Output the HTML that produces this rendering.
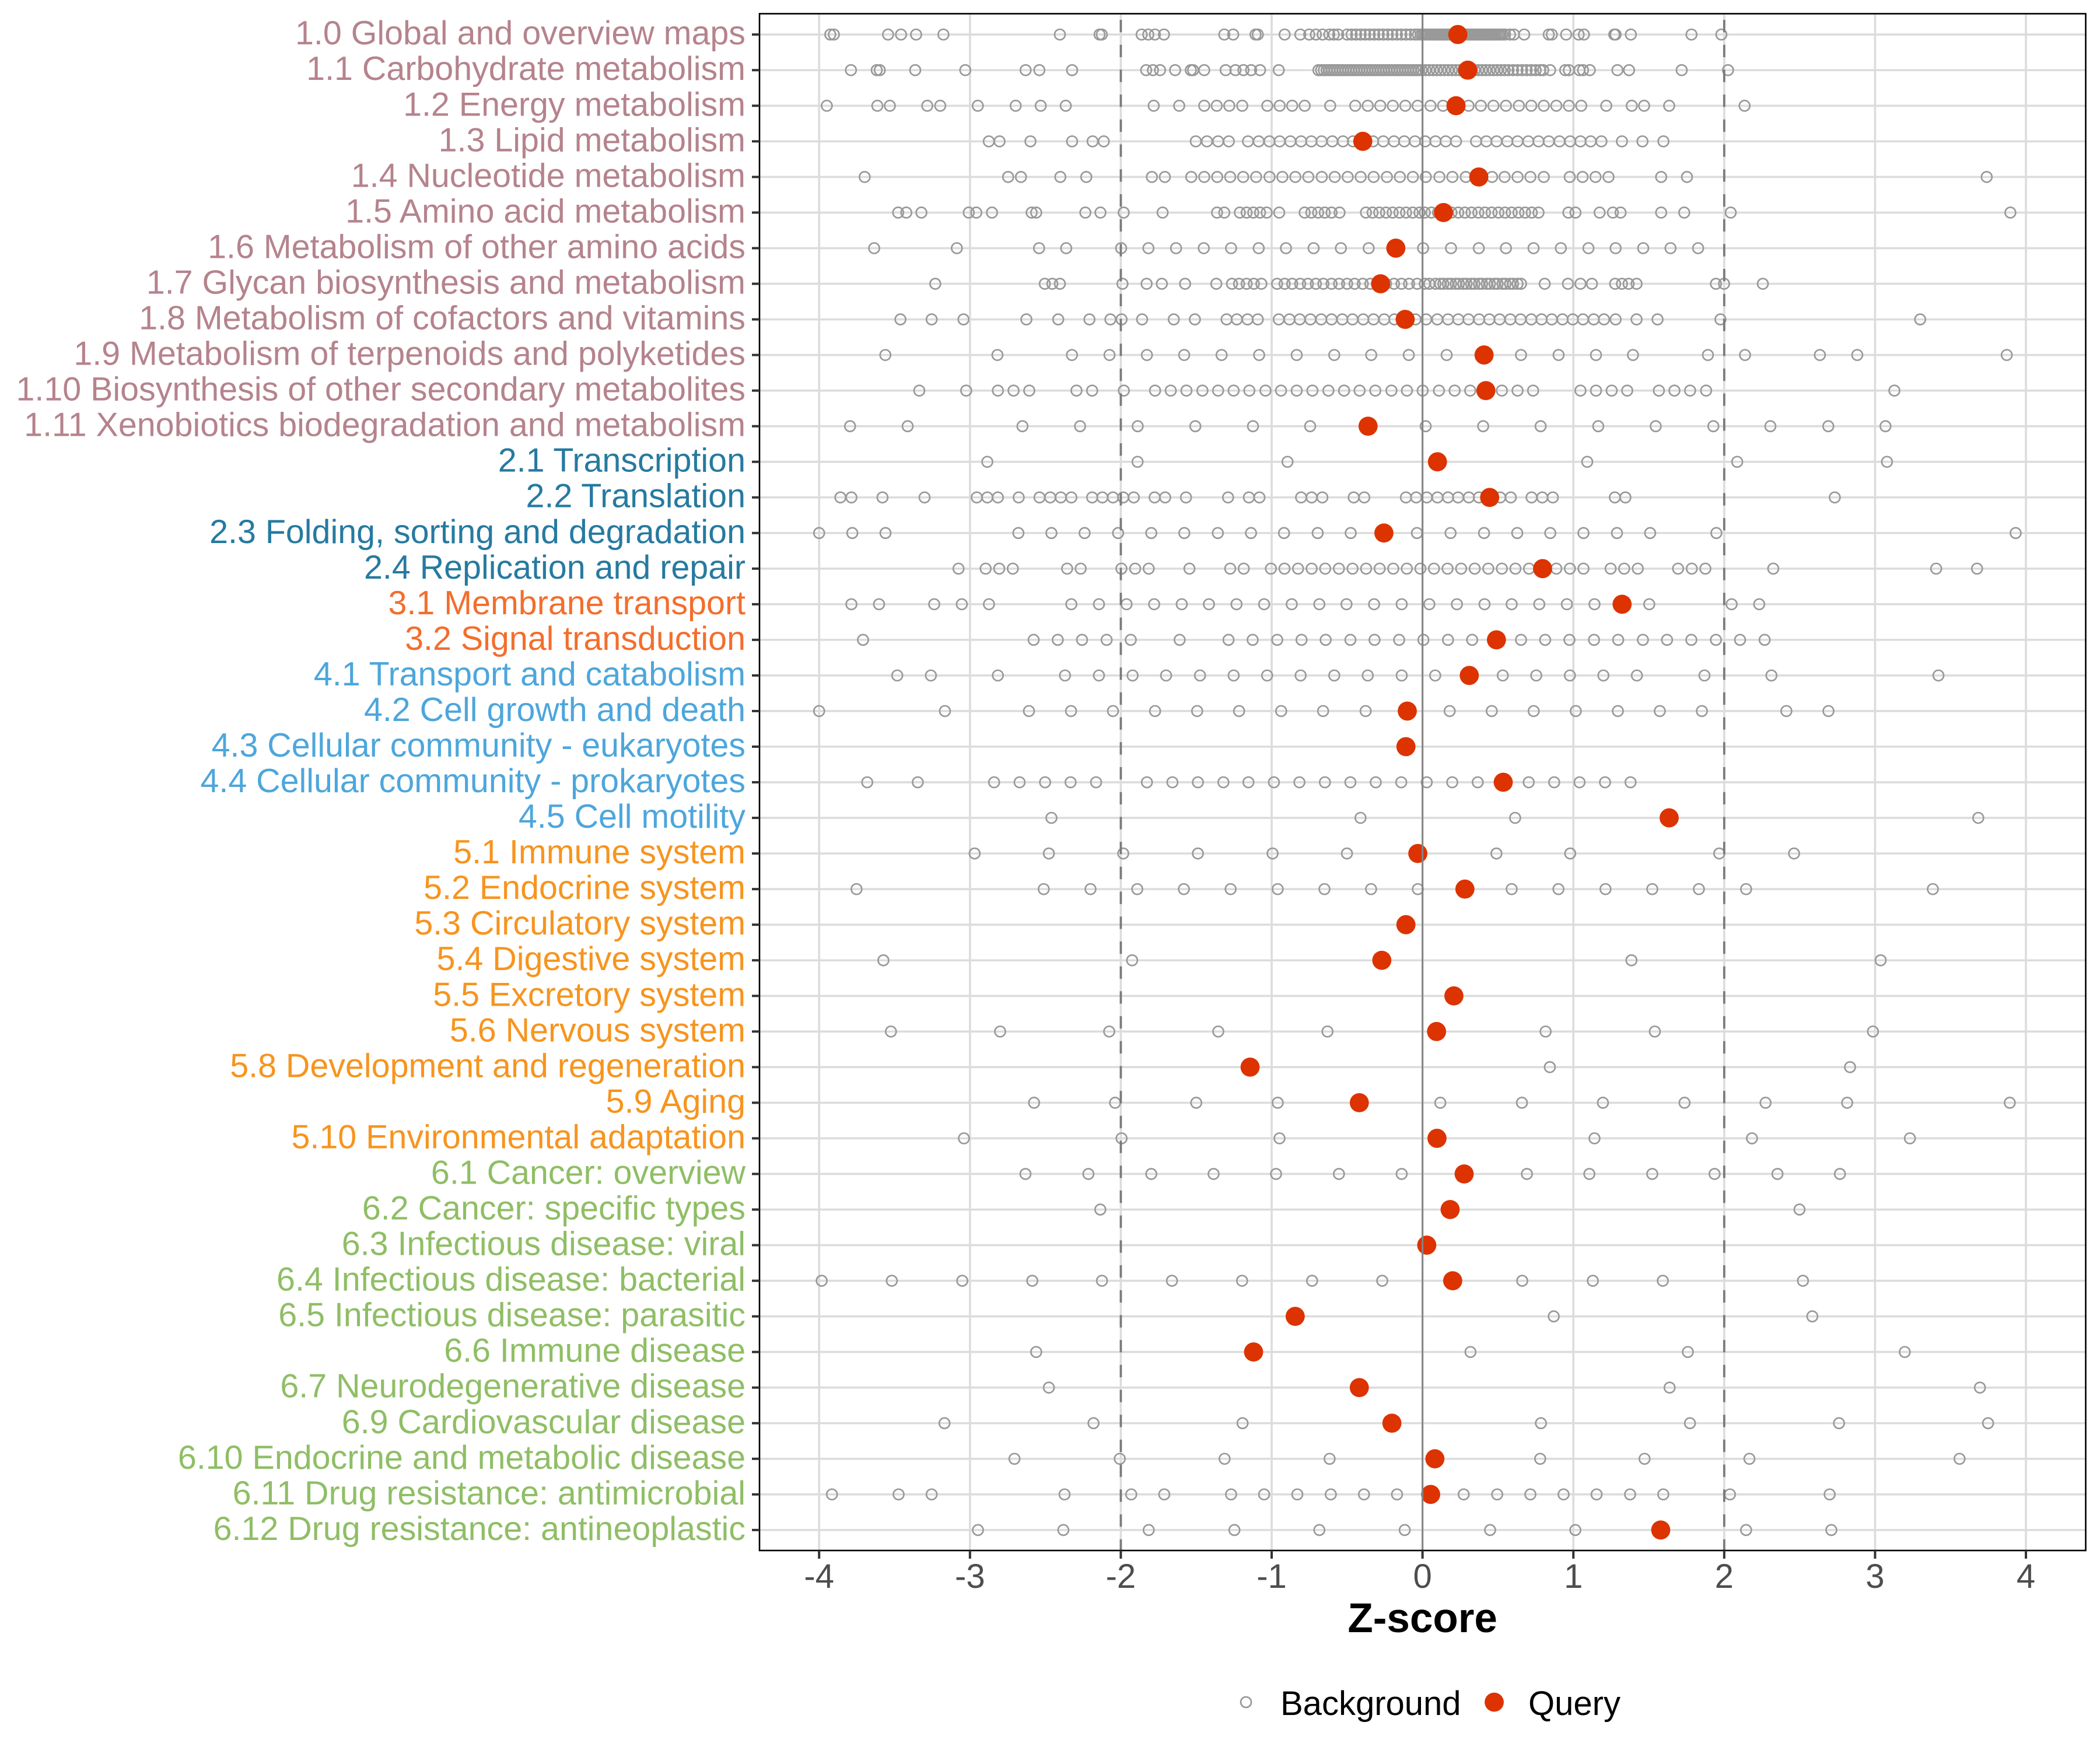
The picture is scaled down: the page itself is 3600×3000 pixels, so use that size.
<!DOCTYPE html>
<html><head><meta charset="utf-8"><style>
html,body{margin:0;padding:0;background:#fff;}
svg{display:block;}
text{font-family:"Liberation Sans",Arial,sans-serif;}
.b circle{fill:none;stroke:#999;stroke-width:.0104;}
.q{fill:#dc3300;}
.yl text{font-size:57.4px;text-anchor:end;}
.c1{fill:#b5838d}.c2{fill:#267aa0}.c3{fill:#f36e2d}.c4{fill:#4da6dc}.c5{fill:#f7941e}.c6{fill:#8fbe65}
</style></head><body>
<svg width="3600" height="3000" viewBox="0 0 3600 3000" xmlns="http://www.w3.org/2000/svg">
<rect x="0" y="0" width="3600" height="3000" fill="#fff"/>
<g stroke="#dcdcdc" stroke-width="3.6">
<line x1="1302" x2="3575" y1="59.2" y2="59.2"/><line x1="1302" x2="3575" y1="120.24" y2="120.24"/><line x1="1302" x2="3575" y1="181.28" y2="181.28"/><line x1="1302" x2="3575" y1="242.32" y2="242.32"/><line x1="1302" x2="3575" y1="303.36" y2="303.36"/><line x1="1302" x2="3575" y1="364.4" y2="364.4"/><line x1="1302" x2="3575" y1="425.44" y2="425.44"/><line x1="1302" x2="3575" y1="486.48" y2="486.48"/><line x1="1302" x2="3575" y1="547.52" y2="547.52"/><line x1="1302" x2="3575" y1="608.56" y2="608.56"/><line x1="1302" x2="3575" y1="669.6" y2="669.6"/><line x1="1302" x2="3575" y1="730.64" y2="730.64"/><line x1="1302" x2="3575" y1="791.68" y2="791.68"/><line x1="1302" x2="3575" y1="852.72" y2="852.72"/><line x1="1302" x2="3575" y1="913.76" y2="913.76"/><line x1="1302" x2="3575" y1="974.8" y2="974.8"/><line x1="1302" x2="3575" y1="1035.84" y2="1035.84"/><line x1="1302" x2="3575" y1="1096.88" y2="1096.88"/><line x1="1302" x2="3575" y1="1157.92" y2="1157.92"/><line x1="1302" x2="3575" y1="1218.96" y2="1218.96"/><line x1="1302" x2="3575" y1="1280" y2="1280"/><line x1="1302" x2="3575" y1="1341.04" y2="1341.04"/><line x1="1302" x2="3575" y1="1402.08" y2="1402.08"/><line x1="1302" x2="3575" y1="1463.12" y2="1463.12"/><line x1="1302" x2="3575" y1="1524.16" y2="1524.16"/><line x1="1302" x2="3575" y1="1585.2" y2="1585.2"/><line x1="1302" x2="3575" y1="1646.24" y2="1646.24"/><line x1="1302" x2="3575" y1="1707.28" y2="1707.28"/><line x1="1302" x2="3575" y1="1768.32" y2="1768.32"/><line x1="1302" x2="3575" y1="1829.36" y2="1829.36"/><line x1="1302" x2="3575" y1="1890.4" y2="1890.4"/><line x1="1302" x2="3575" y1="1951.44" y2="1951.44"/><line x1="1302" x2="3575" y1="2012.48" y2="2012.48"/><line x1="1302" x2="3575" y1="2073.52" y2="2073.52"/><line x1="1302" x2="3575" y1="2134.56" y2="2134.56"/><line x1="1302" x2="3575" y1="2195.6" y2="2195.6"/><line x1="1302" x2="3575" y1="2256.64" y2="2256.64"/><line x1="1302" x2="3575" y1="2317.68" y2="2317.68"/><line x1="1302" x2="3575" y1="2378.72" y2="2378.72"/><line x1="1302" x2="3575" y1="2439.76" y2="2439.76"/><line x1="1302" x2="3575" y1="2500.8" y2="2500.8"/><line x1="1302" x2="3575" y1="2561.84" y2="2561.84"/><line x1="1302" x2="3575" y1="2622.88" y2="2622.88"/>
</g>
<g stroke="#dcdcdc" stroke-width="3.6">
<line x1="1404.2" x2="1404.2" y1="23.5" y2="2658"/><line x1="1662.8" x2="1662.8" y1="23.5" y2="2658"/><line x1="1921.4" x2="1921.4" y1="23.5" y2="2658"/><line x1="2180" x2="2180" y1="23.5" y2="2658"/><line x1="2438.6" x2="2438.6" y1="23.5" y2="2658"/><line x1="2697.2" x2="2697.2" y1="23.5" y2="2658"/><line x1="2955.8" x2="2955.8" y1="23.5" y2="2658"/><line x1="3214.4" x2="3214.4" y1="23.5" y2="2658"/><line x1="3473" x2="3473" y1="23.5" y2="2658"/>
</g>

<g transform="translate(2438.6 59.2) scale(258.6)"><g class="b">
<circle cx="-3.926" r=".0348"/><circle cx="-3.902" r=".0348"/><circle cx="-3.543" r=".0348"/><circle cx="-3.457" r=".0348"/><circle cx="-3.357" r=".0348"/><circle cx="-3.176" r=".0348"/><circle cx="-2.404" r=".0348"/><circle cx="-2.141" r=".0348"/><circle cx="-2.126" r=".0348"/><circle cx="-1.862" r=".0348"/><circle cx="-1.818" r=".0348"/><circle cx="-1.774" r=".0348"/><circle cx="-1.714" r=".0348"/><circle cx="-1.314" r=".0348"/><circle cx="-1.255" r=".0348"/><circle cx="-1.107" r=".0348"/><circle cx="-1.092" r=".0348"/><circle cx="-0.914" r=".0348"/><circle cx="-0.81" r=".0348"/><circle cx="-0.751" r=".0348"/><circle cx="-0.707" r=".0348"/><circle cx="-0.662" r=".0348"/><circle cx="-0.618" r=".0348"/><circle cx="-0.588" r=".0348"/><circle cx="-0.559" r=".0348"/><circle cx="-0.5" r=".0348"/><circle cx="-0.47" r=".0348"/><circle cx="-0.44" r=".0348"/><circle cx="-0.41" r=".0348"/><circle cx="-0.38" r=".0348"/><circle cx="-0.35" r=".0348"/><circle cx="-0.32" r=".0348"/><circle cx="-0.29" r=".0348"/><circle cx="-0.26" r=".0348"/><circle cx="-0.23" r=".0348"/><circle cx="-0.2" r=".0348"/><circle cx="-0.17" r=".0348"/><circle cx="-0.14" r=".0348"/><circle cx="-0.11" r=".0348"/><circle cx="-0.08" r=".0348"/><circle cx="-0.05" r=".0348"/><circle cx="-0.03" r=".0348"/><circle cx="-0.01" r=".0348"/><circle cx="0.002" r=".0348"/><circle cx="0.014" r=".0348"/><circle cx="0.026" r=".0348"/><circle cx="0.038" r=".0348"/><circle cx="0.05" r=".0348"/><circle cx="0.062" r=".0348"/><circle cx="0.074" r=".0348"/><circle cx="0.086" r=".0348"/><circle cx="0.098" r=".0348"/><circle cx="0.11" r=".0348"/><circle cx="0.122" r=".0348"/><circle cx="0.134" r=".0348"/><circle cx="0.146" r=".0348"/><circle cx="0.158" r=".0348"/><circle cx="0.17" r=".0348"/><circle cx="0.182" r=".0348"/><circle cx="0.194" r=".0348"/><circle cx="0.206" r=".0348"/><circle cx="0.218" r=".0348"/><circle cx="0.23" r=".0348"/><circle cx="0.242" r=".0348"/><circle cx="0.254" r=".0348"/><circle cx="0.266" r=".0348"/><circle cx="0.278" r=".0348"/><circle cx="0.29" r=".0348"/><circle cx="0.302" r=".0348"/><circle cx="0.314" r=".0348"/><circle cx="0.326" r=".0348"/><circle cx="0.338" r=".0348"/><circle cx="0.35" r=".0348"/><circle cx="0.362" r=".0348"/><circle cx="0.374" r=".0348"/><circle cx="0.386" r=".0348"/><circle cx="0.398" r=".0348"/><circle cx="0.41" r=".0348"/><circle cx="0.422" r=".0348"/><circle cx="0.434" r=".0348"/><circle cx="0.446" r=".0348"/><circle cx="0.458" r=".0348"/><circle cx="0.47" r=".0348"/><circle cx="0.482" r=".0348"/><circle cx="0.494" r=".0348"/><circle cx="0.506" r=".0348"/><circle cx="0.518" r=".0348"/><circle cx="0.53" r=".0348"/><circle cx="0.547" r=".0348"/><circle cx="0.58" r=".0348"/><circle cx="0.606" r=".0348"/><circle cx="0.674" r=".0348"/><circle cx="0.837" r=".0348"/><circle cx="0.857" r=".0348"/><circle cx="0.952" r=".0348"/><circle cx="1.035" r=".0348"/><circle cx="1.07" r=".0348"/><circle cx="1.271" r=".0348"/><circle cx="1.28" r=".0348"/><circle cx="1.381" r=".0348"/><circle cx="1.783" r=".0348"/><circle cx="1.981" r=".0348"/>
</g><circle class="q" cx="0.234" r=".0634"/></g>

<g transform="translate(2438.6 120.24) scale(258.6)"><g class="b">
<circle cx="-3.789" r=".0348"/><circle cx="-3.618" r=".0348"/><circle cx="-3.598" r=".0348"/><circle cx="-3.363" r=".0348"/><circle cx="-3.031" r=".0348"/><circle cx="-2.631" r=".0348"/><circle cx="-2.54" r=".0348"/><circle cx="-2.323" r=".0348"/><circle cx="-1.832" r=".0348"/><circle cx="-1.787" r=".0348"/><circle cx="-1.74" r=".0348"/><circle cx="-1.64" r=".0348"/><circle cx="-1.536" r=".0348"/><circle cx="-1.521" r=".0348"/><circle cx="-1.447" r=".0348"/><circle cx="-1.305" r=".0348"/><circle cx="-1.24" r=".0348"/><circle cx="-1.187" r=".0348"/><circle cx="-1.136" r=".0348"/><circle cx="-1.077" r=".0348"/><circle cx="-0.953" r=".0348"/><circle cx="-0.69" r=".0348"/><circle cx="-0.672" r=".0348"/><circle cx="-0.654" r=".0348"/><circle cx="-0.636" r=".0348"/><circle cx="-0.618" r=".0348"/><circle cx="-0.6" r=".0348"/><circle cx="-0.582" r=".0348"/><circle cx="-0.564" r=".0348"/><circle cx="-0.546" r=".0348"/><circle cx="-0.528" r=".0348"/><circle cx="-0.51" r=".0348"/><circle cx="-0.492" r=".0348"/><circle cx="-0.474" r=".0348"/><circle cx="-0.456" r=".0348"/><circle cx="-0.438" r=".0348"/><circle cx="-0.42" r=".0348"/><circle cx="-0.402" r=".0348"/><circle cx="-0.384" r=".0348"/><circle cx="-0.366" r=".0348"/><circle cx="-0.348" r=".0348"/><circle cx="-0.33" r=".0348"/><circle cx="-0.312" r=".0348"/><circle cx="-0.294" r=".0348"/><circle cx="-0.276" r=".0348"/><circle cx="-0.258" r=".0348"/><circle cx="-0.24" r=".0348"/><circle cx="-0.222" r=".0348"/><circle cx="-0.204" r=".0348"/><circle cx="-0.186" r=".0348"/><circle cx="-0.168" r=".0348"/><circle cx="-0.15" r=".0348"/><circle cx="-0.132" r=".0348"/><circle cx="-0.114" r=".0348"/><circle cx="-0.096" r=".0348"/><circle cx="-0.078" r=".0348"/><circle cx="-0.06" r=".0348"/><circle cx="-0.042" r=".0348"/><circle cx="-0.024" r=".0348"/><circle cx="-0.006" r=".0348"/><circle cx="0.02" r=".0348"/><circle cx="0.045" r=".0348"/><circle cx="0.07" r=".0348"/><circle cx="0.095" r=".0348"/><circle cx="0.12" r=".0348"/><circle cx="0.145" r=".0348"/><circle cx="0.17" r=".0348"/><circle cx="0.195" r=".0348"/><circle cx="0.22" r=".0348"/><circle cx="0.245" r=".0348"/><circle cx="0.27" r=".0348"/><circle cx="0.295" r=".0348"/><circle cx="0.32" r=".0348"/><circle cx="0.345" r=".0348"/><circle cx="0.37" r=".0348"/><circle cx="0.395" r=".0348"/><circle cx="0.42" r=".0348"/><circle cx="0.445" r=".0348"/><circle cx="0.47" r=".0348"/><circle cx="0.495" r=".0348"/><circle cx="0.52" r=".0348"/><circle cx="0.545" r=".0348"/><circle cx="0.57" r=".0348"/><circle cx="0.6" r=".0348"/><circle cx="0.63" r=".0348"/><circle cx="0.66" r=".0348"/><circle cx="0.69" r=".0348"/><circle cx="0.72" r=".0348"/><circle cx="0.75" r=".0348"/><circle cx="0.78" r=".0348"/><circle cx="0.8" r=".0348"/><circle cx="0.846" r=".0348"/><circle cx="0.946" r=".0348"/><circle cx="0.97" r=".0348"/><circle cx="1.04" r=".0348"/><circle cx="1.064" r=".0348"/><circle cx="1.109" r=".0348"/><circle cx="1.292" r=".0348"/><circle cx="1.369" r=".0348"/><circle cx="1.718" r=".0348"/><circle cx="2.025" r=".0348"/>
</g><circle class="q" cx="0.3" r=".0634"/></g>

<g transform="translate(2438.6 181.28) scale(258.6)"><g class="b">
<circle cx="-3.949" r=".0348"/><circle cx="-3.614" r=".0348"/><circle cx="-3.531" r=".0348"/><circle cx="-3.283" r=".0348"/><circle cx="-3.197" r=".0348"/><circle cx="-2.948" r=".0348"/><circle cx="-2.697" r=".0348"/><circle cx="-2.531" r=".0348"/><circle cx="-2.365" r=".0348"/><circle cx="-1.782" r=".0348"/><circle cx="-1.613" r=".0348"/><circle cx="-1.447" r=".0348"/><circle cx="-1.364" r=".0348"/><circle cx="-1.281" r=".0348"/><circle cx="-1.195" r=".0348"/><circle cx="-1.029" r=".0348"/><circle cx="-0.947" r=".0348"/><circle cx="-0.864" r=".0348"/><circle cx="-0.781" r=".0348"/><circle cx="-0.612" r=".0348"/><circle cx="-0.446" r=".0348"/><circle cx="-0.363" r=".0348"/><circle cx="-0.28" r=".0348"/><circle cx="-0.197" r=".0348"/><circle cx="-0.114" r=".0348"/><circle cx="-0.032" r=".0348"/><circle cx="0.053" r=".0348"/><circle cx="0.136" r=".0348"/><circle cx="0.222" r=".0348"/><circle cx="0.305" r=".0348"/><circle cx="0.387" r=".0348"/><circle cx="0.47" r=".0348"/><circle cx="0.553" r=".0348"/><circle cx="0.639" r=".0348"/><circle cx="0.721" r=".0348"/><circle cx="0.804" r=".0348"/><circle cx="0.887" r=".0348"/><circle cx="0.97" r=".0348"/><circle cx="1.052" r=".0348"/><circle cx="1.218" r=".0348"/><circle cx="1.387" r=".0348"/><circle cx="1.469" r=".0348"/><circle cx="1.635" r=".0348"/><circle cx="2.135" r=".0348"/>
</g><circle class="q" cx="0.222" r=".0634"/></g>

<g transform="translate(2438.6 242.32) scale(258.6)"><g class="b">
<circle cx="-2.875" r=".0348"/><circle cx="-2.804" r=".0348"/><circle cx="-2.599" r=".0348"/><circle cx="-2.323" r=".0348"/><circle cx="-2.187" r=".0348"/><circle cx="-2.113" r=".0348"/><circle cx="-1.503" r=".0348"/><circle cx="-1.429" r=".0348"/><circle cx="-1.355" r=".0348"/><circle cx="-1.284" r=".0348"/><circle cx="-1.157" r=".0348"/><circle cx="-1.086" r=".0348"/><circle cx="-1.015" r=".0348"/><circle cx="-0.947" r=".0348"/><circle cx="-0.876" r=".0348"/><circle cx="-0.805" r=".0348"/><circle cx="-0.737" r=".0348"/><circle cx="-0.669" r=".0348"/><circle cx="-0.598" r=".0348"/><circle cx="-0.527" r=".0348"/><circle cx="-0.461" r=".0348"/><circle cx="-0.328" r=".0348"/><circle cx="-0.26" r=".0348"/><circle cx="-0.189" r=".0348"/><circle cx="-0.121" r=".0348"/><circle cx="-0.05" r=".0348"/><circle cx="0.018" r=".0348"/><circle cx="0.086" r=".0348"/><circle cx="0.154" r=".0348"/><circle cx="0.222" r=".0348"/><circle cx="0.355" r=".0348"/><circle cx="0.423" r=".0348"/><circle cx="0.491" r=".0348"/><circle cx="0.562" r=".0348"/><circle cx="0.63" r=".0348"/><circle cx="0.701" r=".0348"/><circle cx="0.769" r=".0348"/><circle cx="0.837" r=".0348"/><circle cx="0.908" r=".0348"/><circle cx="0.979" r=".0348"/><circle cx="1.047" r=".0348"/><circle cx="1.115" r=".0348"/><circle cx="1.186" r=".0348"/><circle cx="1.322" r=".0348"/><circle cx="1.458" r=".0348"/><circle cx="1.597" r=".0348"/>
</g><circle class="q" cx="-0.396" r=".0634"/></g>

<g transform="translate(2438.6 303.36) scale(258.6)"><g class="b">
<circle cx="-3.698" r=".0348"/><circle cx="-2.747" r=".0348"/><circle cx="-2.662" r=".0348"/><circle cx="-2.401" r=".0348"/><circle cx="-2.229" r=".0348"/><circle cx="-1.794" r=".0348"/><circle cx="-1.708" r=".0348"/><circle cx="-1.533" r=".0348"/><circle cx="-1.447" r=".0348"/><circle cx="-1.361" r=".0348"/><circle cx="-1.275" r=".0348"/><circle cx="-1.189" r=".0348"/><circle cx="-1.103" r=".0348"/><circle cx="-1.014" r=".0348"/><circle cx="-0.929" r=".0348"/><circle cx="-0.843" r=".0348"/><circle cx="-0.757" r=".0348"/><circle cx="-0.668" r=".0348"/><circle cx="-0.582" r=".0348"/><circle cx="-0.496" r=".0348"/><circle cx="-0.41" r=".0348"/><circle cx="-0.324" r=".0348"/><circle cx="-0.236" r=".0348"/><circle cx="-0.15" r=".0348"/><circle cx="-0.064" r=".0348"/><circle cx="0.022" r=".0348"/><circle cx="0.112" r=".0348"/><circle cx="0.198" r=".0348"/><circle cx="0.287" r=".0348"/><circle cx="0.461" r=".0348"/><circle cx="0.544" r=".0348"/><circle cx="0.63" r=".0348"/><circle cx="0.715" r=".0348"/><circle cx="0.804" r=".0348"/><circle cx="0.976" r=".0348"/><circle cx="1.061" r=".0348"/><circle cx="1.147" r=".0348"/><circle cx="1.233" r=".0348"/><circle cx="1.582" r=".0348"/><circle cx="1.753" r=".0348"/><circle cx="3.74" r=".0348"/>
</g><circle class="q" cx="0.373" r=".0634"/></g>

<g transform="translate(2438.6 364.4) scale(258.6)"><g class="b">
<circle cx="-3.476" r=".0348"/><circle cx="-3.422" r=".0348"/><circle cx="-3.322" r=".0348"/><circle cx="-3.008" r=".0348"/><circle cx="-2.958" r=".0348"/><circle cx="-2.854" r=".0348"/><circle cx="-2.591" r=".0348"/><circle cx="-2.561" r=".0348"/><circle cx="-2.235" r=".0348"/><circle cx="-2.135" r=".0348"/><circle cx="-1.981" r=".0348"/><circle cx="-1.723" r=".0348"/><circle cx="-1.362" r=".0348"/><circle cx="-1.314" r=".0348"/><circle cx="-1.211" r=".0348"/><circle cx="-1.166" r=".0348"/><circle cx="-1.122" r=".0348"/><circle cx="-1.077" r=".0348"/><circle cx="-1.033" r=".0348"/><circle cx="-0.95" r=".0348"/><circle cx="-0.781" r=".0348"/><circle cx="-0.737" r=".0348"/><circle cx="-0.692" r=".0348"/><circle cx="-0.648" r=".0348"/><circle cx="-0.603" r=".0348"/><circle cx="-0.55" r=".0348"/><circle cx="-0.375" r=".0348"/><circle cx="-0.331" r=".0348"/><circle cx="-0.287" r=".0348"/><circle cx="-0.242" r=".0348"/><circle cx="-0.198" r=".0348"/><circle cx="-0.153" r=".0348"/><circle cx="-0.109" r=".0348"/><circle cx="-0.065" r=".0348"/><circle cx="-0.02" r=".0348"/><circle cx="0.015" r=".0348"/><circle cx="0.059" r=".0348"/><circle cx="0.103" r=".0348"/><circle cx="0.192" r=".0348"/><circle cx="0.237" r=".0348"/><circle cx="0.281" r=".0348"/><circle cx="0.325" r=".0348"/><circle cx="0.37" r=".0348"/><circle cx="0.414" r=".0348"/><circle cx="0.458" r=".0348"/><circle cx="0.503" r=".0348"/><circle cx="0.547" r=".0348"/><circle cx="0.591" r=".0348"/><circle cx="0.636" r=".0348"/><circle cx="0.68" r=".0348"/><circle cx="0.724" r=".0348"/><circle cx="0.769" r=".0348"/><circle cx="0.967" r=".0348"/><circle cx="1.014" r=".0348"/><circle cx="1.174" r=".0348"/><circle cx="1.262" r=".0348"/><circle cx="1.313" r=".0348"/><circle cx="1.582" r=".0348"/><circle cx="1.735" r=".0348"/><circle cx="2.043" r=".0348"/><circle cx="3.897" r=".0348"/>
</g><circle class="q" cx="0.139" r=".0634"/></g>

<g transform="translate(2438.6 425.44) scale(258.6)"><g class="b">
<circle cx="-3.635" r=".0348"/><circle cx="-3.087" r=".0348"/><circle cx="-2.542" r=".0348"/><circle cx="-2.362" r=".0348"/><circle cx="-1.998" r=".0348"/><circle cx="-1.817" r=".0348"/><circle cx="-1.634" r=".0348"/><circle cx="-1.45" r=".0348"/><circle cx="-1.269" r=".0348"/><circle cx="-1.086" r=".0348"/><circle cx="-0.905" r=".0348"/><circle cx="-0.722" r=".0348"/><circle cx="-0.541" r=".0348"/><circle cx="-0.357" r=".0348"/><circle cx="0.004" r=".0348"/><circle cx="0.189" r=".0348"/><circle cx="0.373" r=".0348"/><circle cx="0.553" r=".0348"/><circle cx="0.736" r=".0348"/><circle cx="0.917" r=".0348"/><circle cx="1.1" r=".0348"/><circle cx="1.28" r=".0348"/><circle cx="1.463" r=".0348"/><circle cx="1.644" r=".0348"/><circle cx="1.827" r=".0348"/>
</g><circle class="q" cx="-0.177" r=".0634"/></g>

<g transform="translate(2438.6 486.48) scale(258.6)"><g class="b">
<circle cx="-3.23" r=".0348"/><circle cx="-2.504" r=".0348"/><circle cx="-2.454" r=".0348"/><circle cx="-2.404" r=".0348"/><circle cx="-1.989" r=".0348"/><circle cx="-1.829" r=".0348"/><circle cx="-1.728" r=".0348"/><circle cx="-1.574" r=".0348"/><circle cx="-1.367" r=".0348"/><circle cx="-1.263" r=".0348"/><circle cx="-1.216" r=".0348"/><circle cx="-1.166" r=".0348"/><circle cx="-1.118" r=".0348"/><circle cx="-1.068" r=".0348"/><circle cx="-0.964" r=".0348"/><circle cx="-0.914" r=".0348"/><circle cx="-0.864" r=".0348"/><circle cx="-0.811" r=".0348"/><circle cx="-0.76" r=".0348"/><circle cx="-0.707" r=".0348"/><circle cx="-0.657" r=".0348"/><circle cx="-0.603" r=".0348"/><circle cx="-0.553" r=".0348"/><circle cx="-0.5" r=".0348"/><circle cx="-0.45" r=".0348"/><circle cx="-0.396" r=".0348"/><circle cx="-0.346" r=".0348"/><circle cx="-0.296" r=".0348"/><circle cx="-0.242" r=".0348"/><circle cx="-0.189" r=".0348"/><circle cx="-0.139" r=".0348"/><circle cx="-0.089" r=".0348"/><circle cx="-0.035" r=".0348"/><circle cx="0.015" r=".0348"/><circle cx="0.045" r=".0348"/><circle cx="0.086" r=".0348"/><circle cx="0.117" r=".0348"/><circle cx="0.138" r=".0348"/><circle cx="0.168" r=".0348"/><circle cx="0.189" r=".0348"/><circle cx="0.22" r=".0348"/><circle cx="0.241" r=".0348"/><circle cx="0.27" r=".0348"/><circle cx="0.292" r=".0348"/><circle cx="0.322" r=".0348"/><circle cx="0.344" r=".0348"/><circle cx="0.374" r=".0348"/><circle cx="0.395" r=".0348"/><circle cx="0.426" r=".0348"/><circle cx="0.447" r=".0348"/><circle cx="0.477" r=".0348"/><circle cx="0.498" r=".0348"/><circle cx="0.53" r=".0348"/><circle cx="0.55" r=".0348"/><circle cx="0.58" r=".0348"/><circle cx="0.6" r=".0348"/><circle cx="0.63" r=".0348"/><circle cx="0.653" r=".0348"/><circle cx="0.81" r=".0348"/><circle cx="0.964" r=".0348"/><circle cx="1.047" r=".0348"/><circle cx="1.123" r=".0348"/><circle cx="1.277" r=".0348"/><circle cx="1.322" r=".0348"/><circle cx="1.366" r=".0348"/><circle cx="1.419" r=".0348"/><circle cx="1.945" r=".0348"/><circle cx="1.999" r=".0348"/><circle cx="2.256" r=".0348"/>
</g><circle class="q" cx="-0.278" r=".0634"/></g>

<g transform="translate(2438.6 547.52) scale(258.6)"><g class="b">
<circle cx="-3.461" r=".0348"/><circle cx="-3.254" r=".0348"/><circle cx="-3.043" r=".0348"/><circle cx="-2.626" r=".0348"/><circle cx="-2.415" r=".0348"/><circle cx="-2.208" r=".0348"/><circle cx="-2.069" r=".0348"/><circle cx="-1.995" r=".0348"/><circle cx="-1.859" r=".0348"/><circle cx="-1.649" r=".0348"/><circle cx="-1.509" r=".0348"/><circle cx="-1.299" r=".0348"/><circle cx="-1.231" r=".0348"/><circle cx="-1.16" r=".0348"/><circle cx="-1.092" r=".0348"/><circle cx="-0.953" r=".0348"/><circle cx="-0.882" r=".0348"/><circle cx="-0.814" r=".0348"/><circle cx="-0.743" r=".0348"/><circle cx="-0.672" r=".0348"/><circle cx="-0.603" r=".0348"/><circle cx="-0.532" r=".0348"/><circle cx="-0.464" r=".0348"/><circle cx="-0.393" r=".0348"/><circle cx="-0.325" r=".0348"/><circle cx="-0.254" r=".0348"/><circle cx="-0.186" r=".0348"/><circle cx="-0.047" r=".0348"/><circle cx="0.024" r=".0348"/><circle cx="0.098" r=".0348"/><circle cx="0.169" r=".0348"/><circle cx="0.237" r=".0348"/><circle cx="0.305" r=".0348"/><circle cx="0.375" r=".0348"/><circle cx="0.443" r=".0348"/><circle cx="0.511" r=".0348"/><circle cx="0.582" r=".0348"/><circle cx="0.65" r=".0348"/><circle cx="0.721" r=".0348"/><circle cx="0.789" r=".0348"/><circle cx="0.857" r=".0348"/><circle cx="0.928" r=".0348"/><circle cx="0.996" r=".0348"/><circle cx="1.064" r=".0348"/><circle cx="1.135" r=".0348"/><circle cx="1.203" r=".0348"/><circle cx="1.28" r=".0348"/><circle cx="1.419" r=".0348"/><circle cx="1.558" r=".0348"/><circle cx="1.975" r=".0348"/><circle cx="3.299" r=".0348"/>
</g><circle class="q" cx="-0.115" r=".0634"/></g>

<g transform="translate(2438.6 608.56) scale(258.6)"><g class="b">
<circle cx="-3.561" r=".0348"/><circle cx="-2.818" r=".0348"/><circle cx="-2.324" r=".0348"/><circle cx="-2.075" r=".0348"/><circle cx="-1.827" r=".0348"/><circle cx="-1.58" r=".0348"/><circle cx="-1.332" r=".0348"/><circle cx="-1.083" r=".0348"/><circle cx="-0.834" r=".0348"/><circle cx="-0.585" r=".0348"/><circle cx="-0.34" r=".0348"/><circle cx="-0.091" r=".0348"/><circle cx="0.16" r=".0348"/><circle cx="0.653" r=".0348"/><circle cx="0.902" r=".0348"/><circle cx="1.15" r=".0348"/><circle cx="1.395" r=".0348"/><circle cx="1.892" r=".0348"/><circle cx="2.138" r=".0348"/><circle cx="2.634" r=".0348"/><circle cx="2.882" r=".0348"/><circle cx="3.873" r=".0348"/>
</g><circle class="q" cx="0.408" r=".0634"/></g>

<g transform="translate(2438.6 669.6) scale(258.6)"><g class="b">
<circle cx="-3.336" r=".0348"/><circle cx="-3.025" r=".0348"/><circle cx="-2.815" r=".0348"/><circle cx="-2.711" r=".0348"/><circle cx="-2.607" r=".0348"/><circle cx="-2.294" r=".0348"/><circle cx="-2.19" r=".0348"/><circle cx="-1.98" r=".0348"/><circle cx="-1.773" r=".0348"/><circle cx="-1.669" r=".0348"/><circle cx="-1.565" r=".0348"/><circle cx="-1.459" r=".0348"/><circle cx="-1.355" r=".0348"/><circle cx="-1.252" r=".0348"/><circle cx="-1.148" r=".0348"/><circle cx="-1.041" r=".0348"/><circle cx="-0.938" r=".0348"/><circle cx="-0.834" r=".0348"/><circle cx="-0.73" r=".0348"/><circle cx="-0.624" r=".0348"/><circle cx="-0.52" r=".0348"/><circle cx="-0.417" r=".0348"/><circle cx="-0.313" r=".0348"/><circle cx="-0.206" r=".0348"/><circle cx="-0.103" r=".0348"/><circle cx="0.001" r=".0348"/><circle cx="0.109" r=".0348"/><circle cx="0.213" r=".0348"/><circle cx="0.316" r=".0348"/><circle cx="0.526" r=".0348"/><circle cx="0.63" r=".0348"/><circle cx="0.733" r=".0348"/><circle cx="1.047" r=".0348"/><circle cx="1.15" r=".0348"/><circle cx="1.254" r=".0348"/><circle cx="1.357" r=".0348"/><circle cx="1.567" r=".0348"/><circle cx="1.67" r=".0348"/><circle cx="1.774" r=".0348"/><circle cx="1.88" r=".0348"/><circle cx="3.128" r=".0348"/>
</g><circle class="q" cx="0.42" r=".0634"/></g>

<g transform="translate(2438.6 730.64) scale(258.6)"><g class="b">
<circle cx="-3.795" r=".0348"/><circle cx="-3.413" r=".0348"/><circle cx="-2.652" r=".0348"/><circle cx="-2.27" r=".0348"/><circle cx="-1.888" r=".0348"/><circle cx="-1.506" r=".0348"/><circle cx="-1.124" r=".0348"/><circle cx="-0.745" r=".0348"/><circle cx="0.021" r=".0348"/><circle cx="0.402" r=".0348"/><circle cx="0.783" r=".0348"/><circle cx="1.165" r=".0348"/><circle cx="1.546" r=".0348"/><circle cx="1.928" r=".0348"/><circle cx="2.306" r=".0348"/><circle cx="2.69" r=".0348"/><circle cx="3.069" r=".0348"/>
</g><circle class="q" cx="-0.361" r=".0634"/></g>

<g transform="translate(2438.6 791.68) scale(258.6)"><g class="b">
<circle cx="-2.885" r=".0348"/><circle cx="-1.889" r=".0348"/><circle cx="-0.895" r=".0348"/><circle cx="1.092" r=".0348"/><circle cx="2.086" r=".0348"/><circle cx="3.079" r=".0348"/>
</g><circle class="q" cx="0.099" r=".0634"/></g>

<g transform="translate(2438.6 852.72) scale(258.6)"><g class="b">
<circle cx="-3.859" r=".0348"/><circle cx="-3.786" r=".0348"/><circle cx="-3.58" r=".0348"/><circle cx="-3.301" r=".0348"/><circle cx="-2.955" r=".0348"/><circle cx="-2.885" r=".0348"/><circle cx="-2.815" r=".0348"/><circle cx="-2.677" r=".0348"/><circle cx="-2.539" r=".0348"/><circle cx="-2.468" r=".0348"/><circle cx="-2.398" r=".0348"/><circle cx="-2.328" r=".0348"/><circle cx="-2.19" r=".0348"/><circle cx="-2.122" r=".0348"/><circle cx="-2.052" r=".0348"/><circle cx="-1.984" r=".0348"/><circle cx="-1.914" r=".0348"/><circle cx="-1.776" r=".0348"/><circle cx="-1.706" r=".0348"/><circle cx="-1.568" r=".0348"/><circle cx="-1.289" r=".0348"/><circle cx="-1.151" r=".0348"/><circle cx="-1.081" r=".0348"/><circle cx="-0.805" r=".0348"/><circle cx="-0.735" r=".0348"/><circle cx="-0.664" r=".0348"/><circle cx="-0.456" r=".0348"/><circle cx="-0.386" r=".0348"/><circle cx="-0.11" r=".0348"/><circle cx="-0.042" r=".0348"/><circle cx="0.028" r=".0348"/><circle cx="0.099" r=".0348"/><circle cx="0.169" r=".0348"/><circle cx="0.236" r=".0348"/><circle cx="0.307" r=".0348"/><circle cx="0.374" r=".0348"/><circle cx="0.515" r=".0348"/><circle cx="0.585" r=".0348"/><circle cx="0.723" r=".0348"/><circle cx="0.794" r=".0348"/><circle cx="0.864" r=".0348"/><circle cx="1.275" r=".0348"/><circle cx="1.345" r=".0348"/><circle cx="2.733" r=".0348"/>
</g><circle class="q" cx="0.445" r=".0634"/></g>

<g transform="translate(2438.6 913.76) scale(258.6)"><g class="b">
<circle cx="-4" r=".0348"/><circle cx="-3.78" r=".0348"/><circle cx="-3.56" r=".0348"/><circle cx="-2.679" r=".0348"/><circle cx="-2.46" r=".0348"/><circle cx="-2.24" r=".0348"/><circle cx="-2.018" r=".0348"/><circle cx="-1.798" r=".0348"/><circle cx="-1.579" r=".0348"/><circle cx="-1.357" r=".0348"/><circle cx="-1.137" r=".0348"/><circle cx="-0.918" r=".0348"/><circle cx="-0.695" r=".0348"/><circle cx="-0.476" r=".0348"/><circle cx="-0.037" r=".0348"/><circle cx="0.186" r=".0348"/><circle cx="0.408" r=".0348"/><circle cx="0.628" r=".0348"/><circle cx="0.847" r=".0348"/><circle cx="1.067" r=".0348"/><circle cx="1.289" r=".0348"/><circle cx="1.509" r=".0348"/><circle cx="1.948" r=".0348"/><circle cx="3.932" r=".0348"/>
</g><circle class="q" cx="-0.256" r=".0634"/></g>

<g transform="translate(2438.6 974.8) scale(258.6)"><g class="b">
<circle cx="-3.076" r=".0348"/><circle cx="-2.896" r=".0348"/><circle cx="-2.806" r=".0348"/><circle cx="-2.716" r=".0348"/><circle cx="-2.356" r=".0348"/><circle cx="-2.266" r=".0348"/><circle cx="-1.996" r=".0348"/><circle cx="-1.905" r=".0348"/><circle cx="-1.815" r=".0348"/><circle cx="-1.545" r=".0348"/><circle cx="-1.275" r=".0348"/><circle cx="-1.185" r=".0348"/><circle cx="-1.005" r=".0348"/><circle cx="-0.915" r=".0348"/><circle cx="-0.825" r=".0348"/><circle cx="-0.735" r=".0348"/><circle cx="-0.645" r=".0348"/><circle cx="-0.554" r=".0348"/><circle cx="-0.464" r=".0348"/><circle cx="-0.374" r=".0348"/><circle cx="-0.284" r=".0348"/><circle cx="-0.194" r=".0348"/><circle cx="-0.104" r=".0348"/><circle cx="-0.014" r=".0348"/><circle cx="0.076" r=".0348"/><circle cx="0.166" r=".0348"/><circle cx="0.256" r=".0348"/><circle cx="0.346" r=".0348"/><circle cx="0.436" r=".0348"/><circle cx="0.526" r=".0348"/><circle cx="0.616" r=".0348"/><circle cx="0.706" r=".0348"/><circle cx="0.887" r=".0348"/><circle cx="0.977" r=".0348"/><circle cx="1.067" r=".0348"/><circle cx="1.247" r=".0348"/><circle cx="1.337" r=".0348"/><circle cx="1.427" r=".0348"/><circle cx="1.694" r=".0348"/><circle cx="1.785" r=".0348"/><circle cx="1.875" r=".0348"/><circle cx="2.325" r=".0348"/><circle cx="3.405" r=".0348"/><circle cx="3.676" r=".0348"/>
</g><circle class="q" cx="0.796" r=".0634"/></g>

<g transform="translate(2438.6 1035.84) scale(258.6)"><g class="b">
<circle cx="-3.786" r=".0348"/><circle cx="-3.603" r=".0348"/><circle cx="-3.237" r=".0348"/><circle cx="-3.054" r=".0348"/><circle cx="-2.874" r=".0348"/><circle cx="-2.328" r=".0348"/><circle cx="-2.145" r=".0348"/><circle cx="-1.962" r=".0348"/><circle cx="-1.779" r=".0348"/><circle cx="-1.596" r=".0348"/><circle cx="-1.416" r=".0348"/><circle cx="-1.233" r=".0348"/><circle cx="-1.05" r=".0348"/><circle cx="-0.867" r=".0348"/><circle cx="-0.684" r=".0348"/><circle cx="-0.504" r=".0348"/><circle cx="-0.321" r=".0348"/><circle cx="-0.138" r=".0348"/><circle cx="0.045" r=".0348"/><circle cx="0.228" r=".0348"/><circle cx="0.411" r=".0348"/><circle cx="0.591" r=".0348"/><circle cx="0.774" r=".0348"/><circle cx="0.957" r=".0348"/><circle cx="1.14" r=".0348"/><circle cx="1.503" r=".0348"/><circle cx="2.049" r=".0348"/><circle cx="2.232" r=".0348"/>
</g><circle class="q" cx="1.323" r=".0634"/></g>

<g transform="translate(2438.6 1096.88) scale(258.6)"><g class="b">
<circle cx="-3.709" r=".0348"/><circle cx="-2.578" r=".0348"/><circle cx="-2.418" r=".0348"/><circle cx="-2.257" r=".0348"/><circle cx="-2.094" r=".0348"/><circle cx="-1.934" r=".0348"/><circle cx="-1.61" r=".0348"/><circle cx="-1.286" r=".0348"/><circle cx="-1.126" r=".0348"/><circle cx="-0.963" r=".0348"/><circle cx="-0.802" r=".0348"/><circle cx="-0.642" r=".0348"/><circle cx="-0.478" r=".0348"/><circle cx="-0.318" r=".0348"/><circle cx="-0.155" r=".0348"/><circle cx="0.006" r=".0348"/><circle cx="0.169" r=".0348"/><circle cx="0.329" r=".0348"/><circle cx="0.653" r=".0348"/><circle cx="0.813" r=".0348"/><circle cx="0.974" r=".0348"/><circle cx="1.137" r=".0348"/><circle cx="1.297" r=".0348"/><circle cx="1.461" r=".0348"/><circle cx="1.621" r=".0348"/><circle cx="1.782" r=".0348"/><circle cx="1.945" r=".0348"/><circle cx="2.105" r=".0348"/><circle cx="2.268" r=".0348"/>
</g><circle class="q" cx="0.49" r=".0634"/></g>

<g transform="translate(2438.6 1157.92) scale(258.6)"><g class="b">
<circle cx="-3.482" r=".0348"/><circle cx="-3.259" r=".0348"/><circle cx="-2.815" r=".0348"/><circle cx="-2.37" r=".0348"/><circle cx="-2.145" r=".0348"/><circle cx="-1.922" r=".0348"/><circle cx="-1.7" r=".0348"/><circle cx="-1.475" r=".0348"/><circle cx="-1.252" r=".0348"/><circle cx="-1.03" r=".0348"/><circle cx="-0.808" r=".0348"/><circle cx="-0.585" r=".0348"/><circle cx="-0.363" r=".0348"/><circle cx="-0.138" r=".0348"/><circle cx="0.084" r=".0348"/><circle cx="0.532" r=".0348"/><circle cx="0.754" r=".0348"/><circle cx="0.977" r=".0348"/><circle cx="1.199" r=".0348"/><circle cx="1.421" r=".0348"/><circle cx="1.869" r=".0348"/><circle cx="2.313" r=".0348"/><circle cx="3.42" r=".0348"/>
</g><circle class="q" cx="0.31" r=".0634"/></g>

<g transform="translate(2438.6 1218.96) scale(258.6)"><g class="b">
<circle cx="-4" r=".0348"/><circle cx="-3.166" r=".0348"/><circle cx="-2.609" r=".0348"/><circle cx="-2.33" r=".0348"/><circle cx="-2.052" r=".0348"/><circle cx="-1.773" r=".0348"/><circle cx="-1.494" r=".0348"/><circle cx="-1.216" r=".0348"/><circle cx="-0.937" r=".0348"/><circle cx="-0.659" r=".0348"/><circle cx="-0.377" r=".0348"/><circle cx="0.18" r=".0348"/><circle cx="0.459" r=".0348"/><circle cx="0.737" r=".0348"/><circle cx="1.016" r=".0348"/><circle cx="1.295" r=".0348"/><circle cx="1.573" r=".0348"/><circle cx="1.852" r=".0348"/><circle cx="2.412" r=".0348"/><circle cx="2.691" r=".0348"/>
</g><circle class="q" cx="-0.101" r=".0634"/></g>

<g transform="translate(2438.6 1280) scale(258.6)"><circle class="q" cx="-0.11" r=".0634"/></g>

<g transform="translate(2438.6 1341.04) scale(258.6)"><g class="b">
<circle cx="-3.681" r=".0348"/><circle cx="-3.346" r=".0348"/><circle cx="-2.84" r=".0348"/><circle cx="-2.671" r=".0348"/><circle cx="-2.502" r=".0348"/><circle cx="-2.333" r=".0348"/><circle cx="-2.164" r=".0348"/><circle cx="-1.827" r=".0348"/><circle cx="-1.658" r=".0348"/><circle cx="-1.489" r=".0348"/><circle cx="-1.32" r=".0348"/><circle cx="-1.154" r=".0348"/><circle cx="-0.985" r=".0348"/><circle cx="-0.816" r=".0348"/><circle cx="-0.647" r=".0348"/><circle cx="-0.478" r=".0348"/><circle cx="-0.31" r=".0348"/><circle cx="-0.141" r=".0348"/><circle cx="0.028" r=".0348"/><circle cx="0.197" r=".0348"/><circle cx="0.366" r=".0348"/><circle cx="0.704" r=".0348"/><circle cx="0.873" r=".0348"/><circle cx="1.041" r=".0348"/><circle cx="1.21" r=".0348"/><circle cx="1.379" r=".0348"/>
</g><circle class="q" cx="0.535" r=".0634"/></g>

<g transform="translate(2438.6 1402.08) scale(258.6)"><g class="b">
<circle cx="-2.46" r=".0348"/><circle cx="-0.411" r=".0348"/><circle cx="0.614" r=".0348"/><circle cx="3.684" r=".0348"/>
</g><circle class="q" cx="1.635" r=".0634"/></g>

<g transform="translate(2438.6 1463.12) scale(258.6)"><g class="b">
<circle cx="-2.969" r=".0348"/><circle cx="-2.477" r=".0348"/><circle cx="-1.984" r=".0348"/><circle cx="-1.489" r=".0348"/><circle cx="-0.994" r=".0348"/><circle cx="-0.501" r=".0348"/><circle cx="0.49" r=".0348"/><circle cx="0.979" r=".0348"/><circle cx="1.967" r=".0348"/><circle cx="2.463" r=".0348"/>
</g><circle class="q" cx="-0.031" r=".0634"/></g>

<g transform="translate(2438.6 1524.16) scale(258.6)"><g class="b">
<circle cx="-3.752" r=".0348"/><circle cx="-2.511" r=".0348"/><circle cx="-2.201" r=".0348"/><circle cx="-1.891" r=".0348"/><circle cx="-1.582" r=".0348"/><circle cx="-1.272" r=".0348"/><circle cx="-0.96" r=".0348"/><circle cx="-0.65" r=".0348"/><circle cx="-0.341" r=".0348"/><circle cx="-0.031" r=".0348"/><circle cx="0.591" r=".0348"/><circle cx="0.901" r=".0348"/><circle cx="1.213" r=".0348"/><circle cx="1.523" r=".0348"/><circle cx="1.832" r=".0348"/><circle cx="2.145" r=".0348"/><circle cx="3.383" r=".0348"/>
</g><circle class="q" cx="0.281" r=".0634"/></g>

<g transform="translate(2438.6 1585.2) scale(258.6)"><circle class="q" cx="-0.11" r=".0634"/></g>

<g transform="translate(2438.6 1646.24) scale(258.6)"><g class="b">
<circle cx="-3.574" r=".0348"/><circle cx="-1.925" r=".0348"/><circle cx="1.385" r=".0348"/><circle cx="3.037" r=".0348"/>
</g><circle class="q" cx="-0.27" r=".0634"/></g>

<g transform="translate(2438.6 1707.28) scale(258.6)"><circle class="q" cx="0.208" r=".0634"/></g>

<g transform="translate(2438.6 1768.32) scale(258.6)"><g class="b">
<circle cx="-3.524" r=".0348"/><circle cx="-2.8" r=".0348"/><circle cx="-2.077" r=".0348"/><circle cx="-1.354" r=".0348"/><circle cx="-0.63" r=".0348"/><circle cx="0.816" r=".0348"/><circle cx="1.54" r=".0348"/><circle cx="2.986" r=".0348"/>
</g><circle class="q" cx="0.093" r=".0634"/></g>

<g transform="translate(2438.6 1829.36) scale(258.6)"><g class="b">
<circle cx="0.844" r=".0348"/><circle cx="2.834" r=".0348"/>
</g><circle class="q" cx="-1.143" r=".0634"/></g>

<g transform="translate(2438.6 1890.4) scale(258.6)"><g class="b">
<circle cx="-2.575" r=".0348"/><circle cx="-2.038" r=".0348"/><circle cx="-1.5" r=".0348"/><circle cx="-0.96" r=".0348"/><circle cx="0.118" r=".0348"/><circle cx="0.659" r=".0348"/><circle cx="1.196" r=".0348"/><circle cx="1.737" r=".0348"/><circle cx="2.274" r=".0348"/><circle cx="2.815" r=".0348"/><circle cx="3.893" r=".0348"/>
</g><circle class="q" cx="-0.419" r=".0634"/></g>

<g transform="translate(2438.6 1951.44) scale(258.6)"><g class="b">
<circle cx="-3.04" r=".0348"/><circle cx="-1.995" r=".0348"/><circle cx="-0.948" r=".0348"/><circle cx="1.14" r=".0348"/><circle cx="2.184" r=".0348"/><circle cx="3.231" r=".0348"/>
</g><circle class="q" cx="0.096" r=".0634"/></g>

<g transform="translate(2438.6 2012.48) scale(258.6)"><g class="b">
<circle cx="-2.632" r=".0348"/><circle cx="-2.215" r=".0348"/><circle cx="-1.798" r=".0348"/><circle cx="-1.385" r=".0348"/><circle cx="-0.971" r=".0348"/><circle cx="-0.554" r=".0348"/><circle cx="-0.138" r=".0348"/><circle cx="0.692" r=".0348"/><circle cx="1.106" r=".0348"/><circle cx="1.523" r=".0348"/><circle cx="1.936" r=".0348"/><circle cx="2.353" r=".0348"/><circle cx="2.767" r=".0348"/>
</g><circle class="q" cx="0.276" r=".0634"/></g>

<g transform="translate(2438.6 2073.52) scale(258.6)"><g class="b">
<circle cx="-2.136" r=".0348"/><circle cx="2.499" r=".0348"/>
</g><circle class="q" cx="0.183" r=".0634"/></g>

<g transform="translate(2438.6 2134.56) scale(258.6)"><circle class="q" cx="0.028" r=".0634"/></g>

<g transform="translate(2438.6 2195.6) scale(258.6)"><g class="b">
<circle cx="-3.983" r=".0348"/><circle cx="-3.518" r=".0348"/><circle cx="-3.051" r=".0348"/><circle cx="-2.587" r=".0348"/><circle cx="-2.125" r=".0348"/><circle cx="-1.661" r=".0348"/><circle cx="-1.196" r=".0348"/><circle cx="-0.732" r=".0348"/><circle cx="-0.267" r=".0348"/><circle cx="0.661" r=".0348"/><circle cx="1.129" r=".0348"/><circle cx="1.593" r=".0348"/><circle cx="2.522" r=".0348"/>
</g><circle class="q" cx="0.2" r=".0634"/></g>

<g transform="translate(2438.6 2256.64) scale(258.6)"><g class="b">
<circle cx="0.87" r=".0348"/><circle cx="2.584" r=".0348"/>
</g><circle class="q" cx="-0.844" r=".0634"/></g>

<g transform="translate(2438.6 2317.68) scale(258.6)"><g class="b">
<circle cx="-2.561" r=".0348"/><circle cx="0.318" r=".0348"/><circle cx="1.759" r=".0348"/><circle cx="3.197" r=".0348"/>
</g><circle class="q" cx="-1.12" r=".0634"/></g>

<g transform="translate(2438.6 2378.72) scale(258.6)"><g class="b">
<circle cx="-2.477" r=".0348"/><circle cx="1.638" r=".0348"/><circle cx="3.695" r=".0348"/>
</g><circle class="q" cx="-0.419" r=".0634"/></g>

<g transform="translate(2438.6 2439.76) scale(258.6)"><g class="b">
<circle cx="-3.169" r=".0348"/><circle cx="-2.181" r=".0348"/><circle cx="-1.193" r=".0348"/><circle cx="0.785" r=".0348"/><circle cx="1.773" r=".0348"/><circle cx="2.761" r=".0348"/><circle cx="3.749" r=".0348"/>
</g><circle class="q" cx="-0.203" r=".0634"/></g>

<g transform="translate(2438.6 2500.8) scale(258.6)"><g class="b">
<circle cx="-2.705" r=".0348"/><circle cx="-2.007" r=".0348"/><circle cx="-1.312" r=".0348"/><circle cx="-0.616" r=".0348"/><circle cx="0.78" r=".0348"/><circle cx="1.472" r=".0348"/><circle cx="2.167" r=".0348"/><circle cx="3.56" r=".0348"/>
</g><circle class="q" cx="0.082" r=".0634"/></g>

<g transform="translate(2438.6 2561.84) scale(258.6)"><g class="b">
<circle cx="-3.915" r=".0348"/><circle cx="-3.473" r=".0348"/><circle cx="-3.254" r=".0348"/><circle cx="-2.373" r=".0348"/><circle cx="-1.931" r=".0348"/><circle cx="-1.712" r=".0348"/><circle cx="-1.269" r=".0348"/><circle cx="-1.05" r=".0348"/><circle cx="-0.83" r=".0348"/><circle cx="-0.608" r=".0348"/><circle cx="-0.388" r=".0348"/><circle cx="-0.169" r=".0348"/><circle cx="0.273" r=".0348"/><circle cx="0.495" r=".0348"/><circle cx="0.715" r=".0348"/><circle cx="0.935" r=".0348"/><circle cx="1.154" r=".0348"/><circle cx="1.376" r=".0348"/><circle cx="1.596" r=".0348"/><circle cx="2.038" r=".0348"/><circle cx="2.699" r=".0348"/>
</g><circle class="q" cx="0.054" r=".0634"/></g>

<g transform="translate(2438.6 2622.88) scale(258.6)"><g class="b">
<circle cx="-2.947" r=".0348"/><circle cx="-2.381" r=".0348"/><circle cx="-1.815" r=".0348"/><circle cx="-1.247" r=".0348"/><circle cx="-0.684" r=".0348"/><circle cx="-0.118" r=".0348"/><circle cx="0.448" r=".0348"/><circle cx="1.013" r=".0348"/><circle cx="2.145" r=".0348"/><circle cx="2.71" r=".0348"/>
</g><circle class="q" cx="1.579" r=".0634"/></g>

<line x1="2438.6" x2="2438.6" y1="23.5" y2="2658" stroke="#858585" stroke-width="3"/>
<line x1="1921.4" x2="1921.4" y1="23.5" y2="2658" stroke="#7a7a7a" stroke-width="3.8" stroke-dasharray="21.3 21.4" stroke-dashoffset="32.2"/>
<line x1="2955.8" x2="2955.8" y1="23.5" y2="2658" stroke="#7a7a7a" stroke-width="3.8" stroke-dasharray="21.3 21.4" stroke-dashoffset="32.2"/>

<rect x="1302" y="23.5" width="2273.5" height="2634.5" fill="none" stroke="#000" stroke-width="2.6"/>

<g stroke="#333" stroke-width="4">
<line x1="1289" x2="1302" y1="59.2" y2="59.2"/><line x1="1289" x2="1302" y1="120.24" y2="120.24"/><line x1="1289" x2="1302" y1="181.28" y2="181.28"/><line x1="1289" x2="1302" y1="242.32" y2="242.32"/><line x1="1289" x2="1302" y1="303.36" y2="303.36"/><line x1="1289" x2="1302" y1="364.4" y2="364.4"/><line x1="1289" x2="1302" y1="425.44" y2="425.44"/><line x1="1289" x2="1302" y1="486.48" y2="486.48"/><line x1="1289" x2="1302" y1="547.52" y2="547.52"/><line x1="1289" x2="1302" y1="608.56" y2="608.56"/><line x1="1289" x2="1302" y1="669.6" y2="669.6"/><line x1="1289" x2="1302" y1="730.64" y2="730.64"/><line x1="1289" x2="1302" y1="791.68" y2="791.68"/><line x1="1289" x2="1302" y1="852.72" y2="852.72"/><line x1="1289" x2="1302" y1="913.76" y2="913.76"/><line x1="1289" x2="1302" y1="974.8" y2="974.8"/><line x1="1289" x2="1302" y1="1035.84" y2="1035.84"/><line x1="1289" x2="1302" y1="1096.88" y2="1096.88"/><line x1="1289" x2="1302" y1="1157.92" y2="1157.92"/><line x1="1289" x2="1302" y1="1218.96" y2="1218.96"/><line x1="1289" x2="1302" y1="1280" y2="1280"/><line x1="1289" x2="1302" y1="1341.04" y2="1341.04"/><line x1="1289" x2="1302" y1="1402.08" y2="1402.08"/><line x1="1289" x2="1302" y1="1463.12" y2="1463.12"/><line x1="1289" x2="1302" y1="1524.16" y2="1524.16"/><line x1="1289" x2="1302" y1="1585.2" y2="1585.2"/><line x1="1289" x2="1302" y1="1646.24" y2="1646.24"/><line x1="1289" x2="1302" y1="1707.28" y2="1707.28"/><line x1="1289" x2="1302" y1="1768.32" y2="1768.32"/><line x1="1289" x2="1302" y1="1829.36" y2="1829.36"/><line x1="1289" x2="1302" y1="1890.4" y2="1890.4"/><line x1="1289" x2="1302" y1="1951.44" y2="1951.44"/><line x1="1289" x2="1302" y1="2012.48" y2="2012.48"/><line x1="1289" x2="1302" y1="2073.52" y2="2073.52"/><line x1="1289" x2="1302" y1="2134.56" y2="2134.56"/><line x1="1289" x2="1302" y1="2195.6" y2="2195.6"/><line x1="1289" x2="1302" y1="2256.64" y2="2256.64"/><line x1="1289" x2="1302" y1="2317.68" y2="2317.68"/><line x1="1289" x2="1302" y1="2378.72" y2="2378.72"/><line x1="1289" x2="1302" y1="2439.76" y2="2439.76"/><line x1="1289" x2="1302" y1="2500.8" y2="2500.8"/><line x1="1289" x2="1302" y1="2561.84" y2="2561.84"/><line x1="1289" x2="1302" y1="2622.88" y2="2622.88"/>
</g>

<g stroke="#333" stroke-width="4">
<line x1="1404.2" x2="1404.2" y1="2658" y2="2672"/><line x1="1662.8" x2="1662.8" y1="2658" y2="2672"/><line x1="1921.4" x2="1921.4" y1="2658" y2="2672"/><line x1="2180" x2="2180" y1="2658" y2="2672"/><line x1="2438.6" x2="2438.6" y1="2658" y2="2672"/><line x1="2697.2" x2="2697.2" y1="2658" y2="2672"/><line x1="2955.8" x2="2955.8" y1="2658" y2="2672"/><line x1="3214.4" x2="3214.4" y1="2658" y2="2672"/><line x1="3473" x2="3473" y1="2658" y2="2672"/>
</g>

<g fill="#4d4d4d" font-size="58" text-anchor="middle">
<text x="1404.2" y="2722">-4</text><text x="1662.8" y="2722">-3</text><text x="1921.4" y="2722">-2</text><text x="2180" y="2722">-1</text><text x="2438.6" y="2722">0</text><text x="2697.2" y="2722">1</text><text x="2955.8" y="2722">2</text><text x="3214.4" y="2722">3</text><text x="3473" y="2722">4</text>
</g>

<text x="2438.6" y="2798" font-size="71" font-weight="bold" text-anchor="middle" fill="#000">Z-score</text>

<g class="yl">
<text class="c1" x="1278" y="76.2">1.0 Global and overview maps</text>
<text class="c1" x="1278" y="137.24">1.1 Carbohydrate metabolism</text>
<text class="c1" x="1278" y="198.28">1.2 Energy metabolism</text>
<text class="c1" x="1278" y="259.32">1.3 Lipid metabolism</text>
<text class="c1" x="1278" y="320.36">1.4 Nucleotide metabolism</text>
<text class="c1" x="1278" y="381.4">1.5 Amino acid metabolism</text>
<text class="c1" x="1278" y="442.44">1.6 Metabolism of other amino acids</text>
<text class="c1" x="1278" y="503.48">1.7 Glycan biosynthesis and metabolism</text>
<text class="c1" x="1278" y="564.52">1.8 Metabolism of cofactors and vitamins</text>
<text class="c1" x="1278" y="625.56">1.9 Metabolism of terpenoids and polyketides</text>
<text class="c1" x="1278" y="686.6">1.10 Biosynthesis of other secondary metabolites</text>
<text class="c1" x="1278" y="747.64">1.11 Xenobiotics biodegradation and metabolism</text>
<text class="c2" x="1278" y="808.68">2.1 Transcription</text>
<text class="c2" x="1278" y="869.72">2.2 Translation</text>
<text class="c2" x="1278" y="930.76">2.3 Folding, sorting and degradation</text>
<text class="c2" x="1278" y="991.8">2.4 Replication and repair</text>
<text class="c3" x="1278" y="1052.84">3.1 Membrane transport</text>
<text class="c3" x="1278" y="1113.88">3.2 Signal transduction</text>
<text class="c4" x="1278" y="1174.92">4.1 Transport and catabolism</text>
<text class="c4" x="1278" y="1235.96">4.2 Cell growth and death</text>
<text class="c4" x="1278" y="1297">4.3 Cellular community - eukaryotes</text>
<text class="c4" x="1278" y="1358.04">4.4 Cellular community - prokaryotes</text>
<text class="c4" x="1278" y="1419.08">4.5 Cell motility</text>
<text class="c5" x="1278" y="1480.12">5.1 Immune system</text>
<text class="c5" x="1278" y="1541.16">5.2 Endocrine system</text>
<text class="c5" x="1278" y="1602.2">5.3 Circulatory system</text>
<text class="c5" x="1278" y="1663.24">5.4 Digestive system</text>
<text class="c5" x="1278" y="1724.28">5.5 Excretory system</text>
<text class="c5" x="1278" y="1785.32">5.6 Nervous system</text>
<text class="c5" x="1278" y="1846.36">5.8 Development and regeneration</text>
<text class="c5" x="1278" y="1907.4">5.9 Aging</text>
<text class="c5" x="1278" y="1968.44">5.10 Environmental adaptation</text>
<text class="c6" x="1278" y="2029.48">6.1 Cancer: overview</text>
<text class="c6" x="1278" y="2090.52">6.2 Cancer: specific types</text>
<text class="c6" x="1278" y="2151.56">6.3 Infectious disease: viral</text>
<text class="c6" x="1278" y="2212.6">6.4 Infectious disease: bacterial</text>
<text class="c6" x="1278" y="2273.64">6.5 Infectious disease: parasitic</text>
<text class="c6" x="1278" y="2334.68">6.6 Immune disease</text>
<text class="c6" x="1278" y="2395.72">6.7 Neurodegenerative disease</text>
<text class="c6" x="1278" y="2456.76">6.9 Cardiovascular disease</text>
<text class="c6" x="1278" y="2517.8">6.10 Endocrine and metabolic disease</text>
<text class="c6" x="1278" y="2578.84">6.11 Drug resistance: antimicrobial</text>
<text class="c6" x="1278" y="2639.88">6.12 Drug resistance: antineoplastic</text>
</g>

<circle cx="2136" cy="2918" r="9" fill="none" stroke="#999" stroke-width="2.7"/>
<text x="2195" y="2940" font-size="58" fill="#000">Background</text>
<circle cx="2561.5" cy="2918" r="16.4" fill="#dc3300"/>
<text x="2620" y="2940" font-size="58" fill="#000">Query</text>
</svg>
</body></html>
